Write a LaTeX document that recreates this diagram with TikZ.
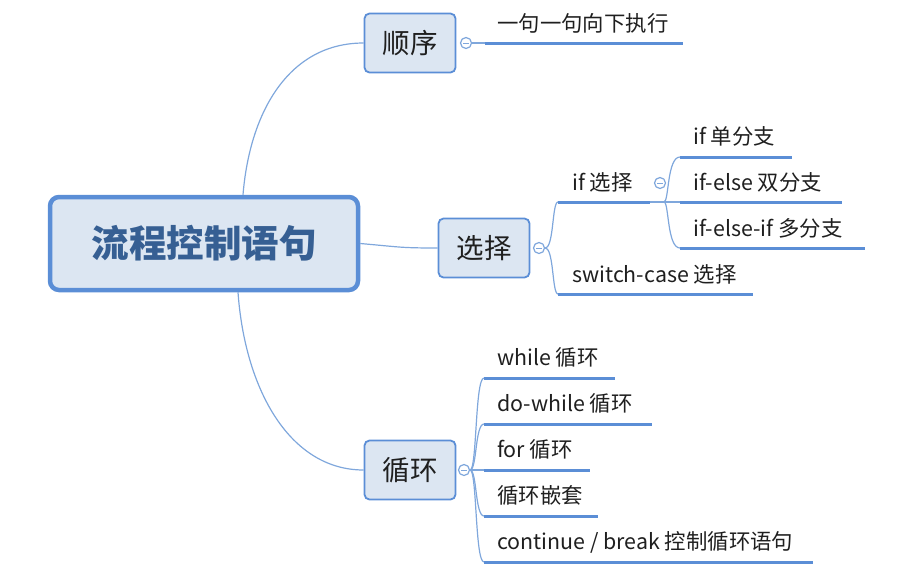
\documentclass[tikz,border=0pt]{standalone}
\usepackage{fontspec}
\setmainfont{Noto Sans CJK SC}
\definecolor{boxfill}{HTML}{DCE6F2}
\definecolor{boxline}{HTML}{5B8ED6}
\definecolor{thinline}{HTML}{7FA7DC}
\definecolor{rootText}{HTML}{365F93}
\definecolor{txt}{HTML}{1F1F1F}
\begin{document}
\begin{tikzpicture}[x=1pt,y=-1pt,
  rootbox/.style={draw=boxline,line width=4.5pt,fill=boxfill,rounded corners=9pt,minimum width=308pt,minimum height=93pt,inner sep=0pt,text=rootText,font=\fontsize{37.5}{42}\selectfont\bfseries},
  subbox/.style={draw=boxline,line width=1.8pt,fill=boxfill,rounded corners=5pt,minimum width=91pt,minimum height=59pt,inner sep=0pt,text=txt,font=\fontsize{27.5}{32}\selectfont},
  leaf/.style={anchor=base west,inner sep=0pt,text=txt,font=\fontsize{21.4}{25}\selectfont},
  uline/.style={draw=boxline,line width=3pt},
  conn/.style={draw=thinline,line width=1.2pt},
  knob/.style={circle,draw=thinline,line width=1.2pt,fill=white,minimum size=11pt,inner sep=0pt,
    path picture={\draw[thinline,line width=1pt] ([xshift=-3pt]path picture bounding box.center) -- ([xshift=3pt]path picture bounding box.center);}}]
\useasboundingbox (0,0) rectangle (900,579);

% nodes
\node[rootbox] (root) at (204,243.5) {流程控制语句};
\node[subbox] (seq) at (410,43) {顺序};
\node[subbox] (sel) at (484,248) {选择};
\node[subbox] (loop) at (410,470) {循环};

% root connectors
\draw[conn] (root.north -| 243,0) .. controls (250,110) and (290,43) .. (seq.west);
\draw[conn] (root.east) .. controls (400,247) and (400,248) .. (sel.west);
\draw[conn] (root.south -| 238,0) .. controls (245,390) and (290,470) .. (loop.west);

% 顺序 branch
\node[knob] (k1) at (466,43) {};
\coordinate (s1a) at (485,43);
\coordinate (s1b) at (683,43);
\draw[conn] (k1.east) -- (s1a);
\draw[uline] (s1a) -- (s1b);
\node[leaf] (t1) at (497,31) {一句一句向下执行};

% 选择 branch
\node[knob] (k2) at (539,248) {};
\coordinate (ifa) at (558,202);
\coordinate (ifb) at (650,202);
\coordinate (swa) at (558,294);
\coordinate (swb) at (753,294);
\draw[conn] (k2.east) .. controls (554,248) and (552,202) .. (ifa);
\draw[conn] (k2.east) .. controls (554,248) and (552,294) .. (swa);
\draw[uline] (ifa) -- (ifb);
\draw[uline] (swa) -- (swb);
\node[leaf] (tif) at (572,190) {if 选择};
\node[leaf] (tsw) at (572,282) {switch-case 选择};

% if sub-branch
\node[knob] (k3) at (660,183) {};
\coordinate (i1a) at (680,157);
\coordinate (i1b) at (792,157);
\coordinate (i2a) at (680,202);
\coordinate (i2b) at (842,202);
\coordinate (i3a) at (680,248);
\coordinate (i3b) at (865,248);
\draw[conn] (ifb) -- (i2a);
\draw[conn] (664,202) .. controls (669,202) and (667,157) .. (i1a);
\draw[conn] (664,202) .. controls (669,202) and (667,248) .. (i3a);
\draw[uline] (i1a) -- (i1b);
\draw[uline] (i2a) -- (i2b);
\draw[uline] (i3a) -- (i3b);
\node[leaf] (ti1) at (693,144) {if 单分支};
\node[leaf] (ti2) at (693,190) {if-else 双分支};
\node[leaf] (ti3) at (693,236) {if-else-if 多分支};

% 循环 branch
\node[knob] (k4) at (464,470) {};
\foreach \y/\xe/\lab/\nm in {378/615/{while 循环}/a, 424/652/{do-while 循环}/b, 470/590/{for 循环}/c, 516/598/{循环嵌套}/d, 562/813/{continue / break 控制循环语句}/e}{
  \coordinate (l\nm a) at (484,\y);
  \coordinate (l\nm b) at (\xe,\y);
  \draw[conn] (k4.east) .. controls (477,470) and (475,\y) .. (l\nm a);
  \draw[uline] (l\nm a) -- (l\nm b);
  \node[leaf] (tl\nm) at (497,\y-13) {\lab};
}
\end{tikzpicture}
\end{document}
